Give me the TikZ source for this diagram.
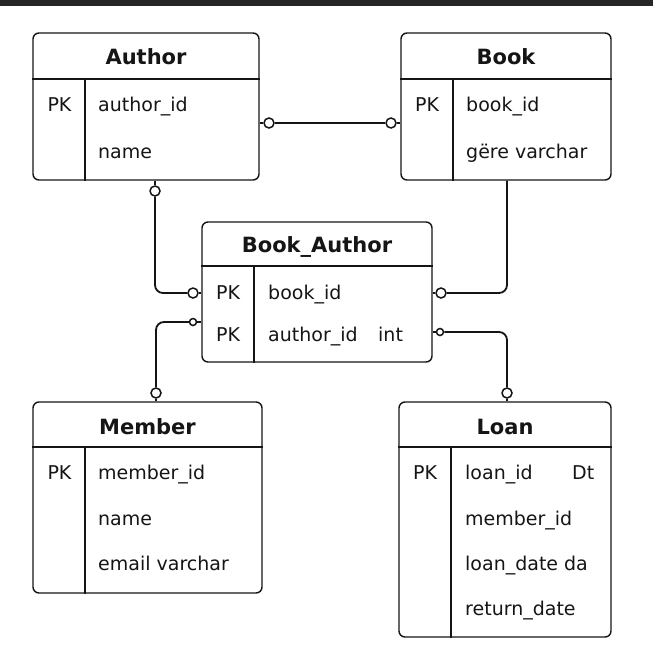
\documentclass[tikz,border=0pt]{standalone}
\usepackage{fontspec}
\setmainfont{DejaVu Sans}
\usepackage{tikz}
\usetikzlibrary{positioning}

\definecolor{barcol}{HTML}{262626}
\definecolor{ink}{HTML}{151515}

\tikzset{
    tbl/.style={draw=ink, line width=1.4pt, rounded corners=6pt, inner sep=0pt},
    rule/.style={draw=ink, line width=1.3pt},
    title/.style={font=\fontsize{21}{25}\selectfont\bfseries, text=ink, inner sep=0pt, text height=15.3pt, text depth=0pt},
    key/.style={font=\fontsize{19}{23}\selectfont, text=ink, inner sep=0pt, text height=13.8pt, text depth=0pt},
    field/.style={key, anchor=west},
    conn/.style={draw=ink, line width=1.8pt, rounded corners=8pt},
    zero/.style={circle, draw=ink, fill=white, line width=1.5pt, minimum size=10pt, inner sep=0pt},
    zsmall/.style={zero, minimum size=7pt},
}

\begin{document}
\begin{tikzpicture}[x=1pt, y=-1pt]
        \useasboundingbox (0,0) rectangle (653,658);
        \fill[barcol] (0,0) rectangle (653,6);

        % Author
        \node[tbl, minimum width=226pt, minimum height=147pt] (author) at (146,106.5) {};
        \draw[rule] (author.west |- 0,79) -- (author.east |- 0,79);
        \draw[rule] (85,79) -- (author.south -| 85,0);
        \node[title] (author-t) at (146,57) {Author};
        \node[key] (author-pk) at (59.5,105) {PK};
        \node[field] (author-id) at (98,105) {author\_id};
        \node[field] (author-name) at (98,152) {name};

        % Book
        \node[tbl, minimum width=210pt, minimum height=147pt] (book) at (506,106.5) {};
        \draw[rule] (book.west |- 0,79) -- (book.east |- 0,79);
        \draw[rule] (453,79) -- (book.south -| 453,0);
        \node[title] (book-t) at (506,57) {Book};
        \node[key] (book-pk) at (427,105) {PK};
        \node[field] (book-id) at (466,105) {book\_id};
        \node[field] (book-genre) at (466,152) {gëre varchar};

        % Book_Author
        \node[tbl, minimum width=230pt, minimum height=140pt] (ba) at (317,292) {};
        \draw[rule] (ba.west |- 0,266) -- (ba.east |- 0,266);
        \draw[rule] (254,266) -- (ba.south -| 254,0);
        \node[title] (ba-t) at (317,245) {Book\_Author};
        \node[key] (ba-pk1) at (228,293) {PK};
        \node[key] (ba-pk2) at (228,335) {PK};
        \node[field] (ba-book) at (268,293) {book\_id};
        \node[field] (ba-author) at (268,335) {author\_id};
        \node[field] (ba-type) at (378,335) {int};

        % Member
        \node[tbl, minimum width=229pt, minimum height=191pt] (member) at (147.5,497.5) {};
        \draw[rule] (member.west |- 0,447) -- (member.east |- 0,447);
        \draw[rule] (85,447) -- (member.south -| 85,0);
        \node[title] (member-t) at (147.5,427) {Member};
        \node[key] (member-pk) at (59.5,473) {PK};
        \node[field] (member-id) at (98,473) {member\_id};
        \node[field] (member-name) at (98,519) {name};
        \node[field] (member-email) at (98,564) {email varchar};

        % Loan
        \node[tbl, minimum width=212pt, minimum height=235pt] (loan) at (505,519.5) {};
        \draw[rule] (loan.west |- 0,447) -- (loan.east |- 0,447);
        \draw[rule] (451,447) -- (loan.south -| 451,0);
        \node[title] (loan-t) at (505,427) {Loan};
        \node[key] (loan-pk) at (425,473) {PK};
        \node[field] (loan-id) at (465,473) {loan\_id};
        \node[field] (loan-type) at (572,473) {Dt};
        \node[field] (loan-member) at (465,519) {member\_id};
        \node[field] (loan-date) at (465,564) {loan\_date da};
        \node[field] (loan-return) at (465,609) {return\_date};

        % Zero markers
        \node[zero] (z1) at (269,123) {};
        \node[zero] (z2) at (391,123) {};
        \node[zero] (z3) at (155,191) {};
        \node[zero] (z4) at (193,293) {};
        \node[zero] (z5) at (441,293) {};
        \node[zsmall] (z6) at (193,322) {};
        \node[zero] (z7) at (156,393) {};
        \node[zsmall] (z8) at (440,332) {};
        \node[zero] (z9) at (507,393) {};

        % Connectors
        \draw[conn] (author.east |- z1) -- (z1);
        \draw[conn] (z1) -- (z2);
        \draw[conn] (z2) -- (book.west |- z2);
        \draw[conn] (author.south -| z3) -- (z3);
        \draw[conn] (z3) |- (z4);
        \draw[conn] (z4) -- (ba.west |- z4);
        \draw[conn] (book.south -| z9) |- (z5);
        \draw[conn] (z5) -- (ba.east |- z5);
        \draw[conn] (ba.west |- z6) -- (z6);
        \draw[conn] (z6) -| (z7);
        \draw[conn] (z7) -- (member.north -| z7);
        \draw[conn] (ba.east |- z8) -- (z8);
        \draw[conn] (z8) -| (z9);
        \draw[conn] (z9) -- (loan.north -| z9);
\end{tikzpicture}
\end{document}
